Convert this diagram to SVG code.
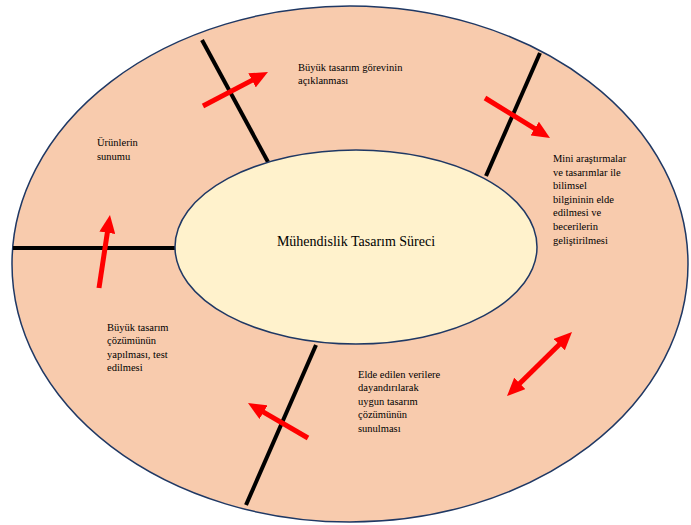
<svg xmlns="http://www.w3.org/2000/svg" width="691" height="525" viewBox="0 0 691 525">
<style>
.ell{stroke:#1F3864;stroke-width:1.5}
.div{stroke:#000;stroke-width:4;fill:none}
.arr{stroke:#FF0000;stroke-width:5;fill:none}
.lbl{font-family:"Liberation Serif","Times New Roman",serif;font-size:10.5px;fill:#000}
.title{font-family:"Liberation Serif","Times New Roman",serif;font-size:14px;fill:#000}
</style>
<defs>
<marker id="head" markerUnits="userSpaceOnUse" viewBox="0 0 18 16" markerWidth="18" markerHeight="16" refX="2" refY="8" orient="auto-start-reverse">
<path d="M0,0 L18,8 L0,16 z" fill="#FF0000"/>
</marker>
</defs>
<rect width="691" height="525" fill="#FFFFFF"/>
<g id="outer">
<ellipse class="ell" cx="350" cy="264" rx="338" ry="258" fill="#F8CBAD"/>
</g>
<g id="dividers">
<line class="div" x1="202" y1="40" x2="268" y2="162"/>
<line class="div" x1="540" y1="53" x2="486" y2="176"/>
<line class="div" x1="13" y1="248" x2="176" y2="248"/>
<line class="div" x1="316" y1="345" x2="246" y2="505"/>
</g>
<g id="center">
<ellipse class="ell" cx="356" cy="247" rx="181" ry="97" fill="#FFF2CC"/>
<text class="title" x="356" y="246" text-anchor="middle">Mühendislik Tasarım Süreci</text>
</g>
<g id="connectors">
<line class="arr" x1="203" y1="106" x2="253.8" y2="79.4" marker-end="url(#head)"/>
<line class="arr" x1="485" y1="98" x2="536.4" y2="129.6" marker-end="url(#head)"/>
<line class="arr" x1="99" y1="288" x2="107.6" y2="230.8" marker-end="url(#head)"/>
<line class="arr" x1="308" y1="438" x2="261.8" y2="411.1" marker-end="url(#head)"/>
<line class="arr" x1="518.4" y1="384.8" x2="560.6" y2="343.2" marker-start="url(#head)" marker-end="url(#head)"/>
</g>
<g id="step1">
<text class="lbl" x="298" y="71">Büyük tasarım görevinin</text>
<text class="lbl" x="298" y="84">açıklanması</text>
</g>
<g id="step2">
<text class="lbl" x="553" y="162">Mini araştırmalar</text>
<text class="lbl" x="553" y="176">ve tasarımlar ile</text>
<text class="lbl" x="553" y="189">bilimsel</text>
<text class="lbl" x="553" y="203">bilgininin elde</text>
<text class="lbl" x="553" y="216">edilmesi ve</text>
<text class="lbl" x="553" y="230">becerilerin</text>
<text class="lbl" x="553" y="244">geliştirilmesi</text>
</g>
<g id="step3">
<text class="lbl" x="358" y="378">Elde edilen verilere</text>
<text class="lbl" x="358" y="391">dayandırılarak</text>
<text class="lbl" x="358" y="405">uygun tasarım</text>
<text class="lbl" x="358" y="418">çözümünün</text>
<text class="lbl" x="358" y="432">sunulması</text>
</g>
<g id="step4">
<text class="lbl" x="107" y="331">Büyük tasarım</text>
<text class="lbl" x="107" y="344">çözümünün</text>
<text class="lbl" x="107" y="358">yapılması, test</text>
<text class="lbl" x="107" y="371">edilmesi</text>
</g>
<g id="step5">
<text class="lbl" x="97" y="146">Ürünlerin</text>
<text class="lbl" x="97" y="160">sunumu</text>
</g>
</svg>
